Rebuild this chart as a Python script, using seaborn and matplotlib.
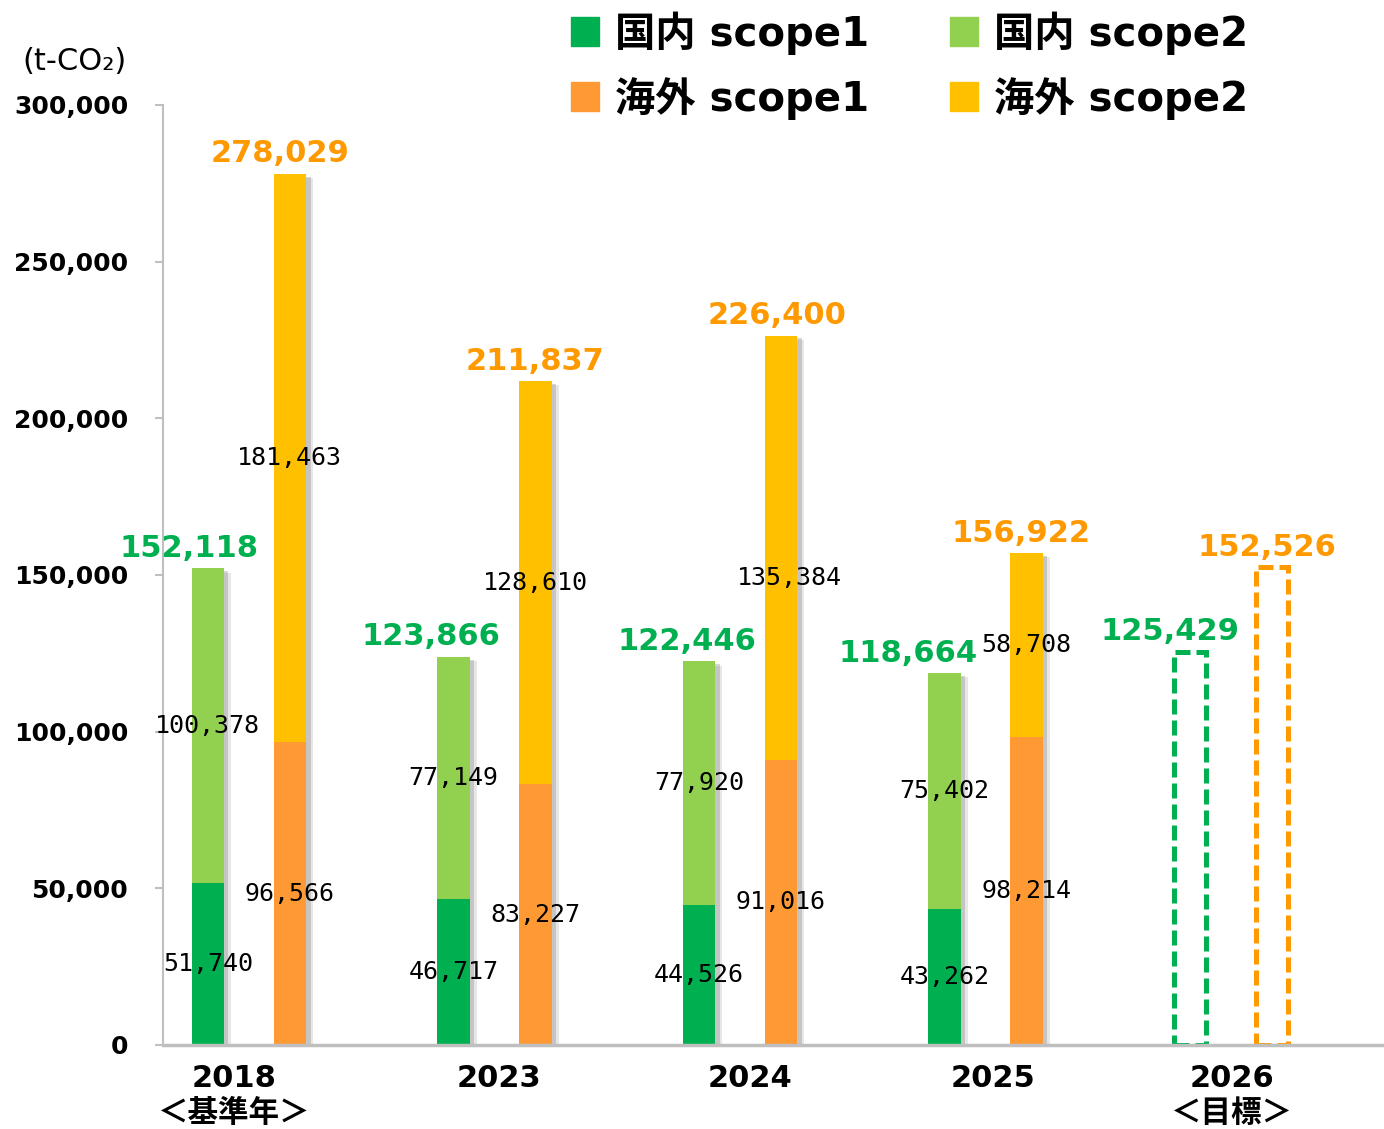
import pandas as pd
import matplotlib.pyplot as plt
import matplotlib.patheffects as pe
from matplotlib.patches import Patch
from matplotlib.transforms import ScaledTranslation
import seaborn as sns

years = ['2018', '2023', '2024', '2025', '2026']
year_labels = ['2018\n＜基準年＞', '2023', '2024', '2025', '2026\n＜目標＞']
regions = ['国内', '海外']
actual_years = ['2018', '2023', '2024', '2025']
dom_s1 = [51740, 46717, 44526, 43262]
dom_s2 = [100378, 77149, 77920, 75402]
ovs_s1 = [96566, 83227, 91016, 98214]
ovs_s2 = [181463, 128610, 135384, 58708]
target_dom = 125429
target_ovs = 152526

GREEN, LGREEN, ORANGE, YELLOW = '#00B050', '#92D050', '#FF9933', '#FFC000'
ORANGE_TXT = '#FF9900'

rows = []
for i, y in enumerate(actual_years):
    rows.append(dict(year=y, region='国内', s1=dom_s1[i], s2=dom_s2[i]))
    rows.append(dict(year=y, region='海外', s1=ovs_s1[i], s2=ovs_s2[i]))
df = pd.DataFrame(rows)
df['total'] = df['s1'] + df['s2']
target = pd.DataFrame({'year': ['2026', '2026'], 'region': regions,
                       'total': [target_dom, target_ovs]})

sns.set_style('white')
plt.rcParams['font.family'] = ['DejaVu Sans', 'Noto Sans CJK JP']
plt.rcParams['text.color'] = 'black'

fig = plt.figure(figsize=(13.84, 11.29), dpi=100)
ax = fig.add_axes([163 / 1384, 84 / 1129, (1384 - 163) / 1384, 940 / 1129])

W, GAP = 0.668, 0.6
common = dict(x='year', hue='region', order=years, hue_order=regions,
              width=W, gap=GAP, saturation=1, legend=False, ax=ax)

# stacked bars: total (scope2 colour) then scope1 on top
sns.barplot(data=df, y='total', palette=[LGREEN, YELLOW], linewidth=0, **common)
for p in list(ax.patches):
    p.set_path_effects([pe.SimplePatchShadow(offset=(3, -2), shadow_rgbFace='#888888', alpha=0.35),
                        pe.SimplePatchShadow(offset=(5, -3), shadow_rgbFace='#888888', alpha=0.2),
                        pe.Normal()])
sns.barplot(data=df, y='s1', palette=[GREEN, ORANGE], linewidth=0, **common)
sns.barplot(data=target, y='total', palette=[GREEN, ORANGE_TXT], fill=False,
            linewidth=3.6, linestyle=(0, (3, 1.2)), **common)

ax.set_xlim(-0.35, 4.623)
ax.set_ylim(0, 300000)
ax.set_xlabel('')
ax.set_ylabel('')
ax.set_yticks(range(0, 300001, 50000))
ax.set_yticklabels([f'{v:,}' for v in range(0, 300001, 50000)],
                   fontsize=18, fontweight='bold')
ax.set_xticks(range(len(years)))
ax.set_xticklabels(year_labels, fontsize=22, fontweight='bold', linespacing=1.25)
ax.tick_params(axis='y', length=6, width=1.5, color='#BFBFBF', pad=19, left=True,
               labelcolor='black')
ax.tick_params(axis='x', length=0, pad=14, labelcolor='black')
tick_shift = [-15, 4, 10, 7, 1]
for lab, dx in zip(ax.get_xticklabels(), tick_shift):
    lab.set_transform(lab.get_transform() + ScaledTranslation(dx / 100, 0, fig.dpi_scale_trans))
for s in ['top', 'right']:
    ax.spines[s].set_visible(False)
ax.spines['left'].set_color('#BFBFBF')
ax.spines['left'].set_linewidth(1.5)
ax.spines['bottom'].set_color('#BFBFBF')
ax.spines['bottom'].set_linewidth(2.5)

off = W / 4
seg_font = dict(fontsize=18, family='DejaVu Sans Mono', ha='center', va='center',
                color='black', textcoords='offset points')
dom_shift = [-19, -23, -12, -36, -20]
ovs_shift = [-10, 0, -4, -6, -5]
seg_nudge = {(2, 1, 1): (8, -30)}  # (year, region, scope) -> pixel nudge
for i in range(len(actual_years)):
    for r, (sgn, s1, s2) in enumerate([(-1, dom_s1[i], dom_s2[i]), (1, ovs_s1[i], ovs_s2[i])]):
        x = i + sgn * off
        for k, (yv, v) in enumerate([(s1 / 2, s1), (s1 + s2 / 2, s2)]):
            nx, ny = seg_nudge.get((i, r, k), (0, 0))
            ax.annotate(f'{v:,}', (x, yv), xytext=(nx * 0.72, ny * 0.72), **seg_font)
    dt = dom_s1[i] + dom_s2[i]
    ot = ovs_s1[i] + ovs_s2[i]
    ax.annotate(f'{dt:,}', (i - off, dt), xytext=(dom_shift[i] * 0.72, 4),
                textcoords='offset points', ha='center', va='bottom',
                fontsize=22, fontweight='bold', color=GREEN)
    ax.annotate(f'{ot:,}', (i + off, ot), xytext=(ovs_shift[i] * 0.72, 4),
                textcoords='offset points', ha='center', va='bottom',
                fontsize=22, fontweight='bold', color=ORANGE_TXT)
ax.annotate(f'{target_dom:,}', (4 - off, target_dom), xytext=(dom_shift[4] * 0.72, 4),
            textcoords='offset points', ha='center', va='bottom',
            fontsize=22, fontweight='bold', color=GREEN)
ax.annotate(f'{target_ovs:,}', (4 + off, target_ovs), xytext=(ovs_shift[4] * 0.72, 4),
            textcoords='offset points', ha='center', va='bottom',
            fontsize=22, fontweight='bold', color=ORANGE_TXT)

fig.text(22 / 1384, 1 - 61 / 1129, '(t-CO₂)', fontsize=22, va='center', ha='left')

handles = [Patch(color=GREEN, label='国内 scope1'), Patch(color=ORANGE, label='海外 scope1'),
           Patch(color=LGREEN, label='国内 scope2'), Patch(color=YELLOW, label='海外 scope2')]
fig.legend(handles=handles, ncol=2, loc='upper left', bbox_to_anchor=(551 / 1384, 1 + 9 / 1129),
           frameon=False, borderpad=0, handlelength=0.7, handleheight=0.7,
           handletextpad=0.4, columnspacing=2.0, labelspacing=0.55,
           prop=dict(size=29, weight='bold'))

fig.savefig('out.png', dpi=100)
